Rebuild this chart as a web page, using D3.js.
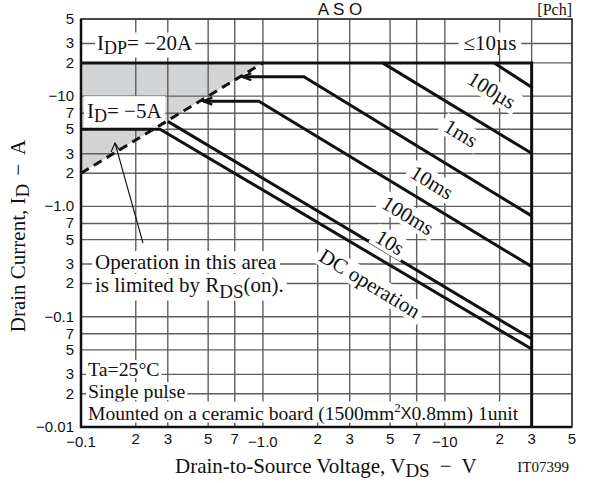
<!DOCTYPE html>
<html>
<head>
<meta charset="utf-8">
<script src="https://cdn.jsdelivr.net/npm/d3@7"></script>
<style>
  html, body { margin: 0; padding: 0; background: #fff; }
  svg { display: block; }
  .serif { font-family: "Liberation Serif", "DejaVu Serif", serif; }
  .sans { font-family: "Liberation Sans", Arial, sans-serif; }
</style>
</head>
<body>
<svg id="chart" width="596" height="483"></svg>
<script>
// ---- data ----
const xTicks = [0.1, 0.2, 0.3, 0.5, 0.7, 1, 2, 3, 5, 7, 10, 20, 30, 50];
const xTickLabels = ["−0.1", "2", "3", "5", "7", "−1.0", "2", "3", "5", "7", "−10", "2", "3", "5"];
const yTicks = [50, 30, 20, 10, 7, 5, 3, 2, 1, 0.7, 0.5, 0.3, 0.2, 0.1, 0.07, 0.05, 0.03, 0.02, 0.01];
const yTickLabels = ["5", "3", "2", "−10", "7", "5", "3", "2", "−1.0", "7", "5", "3", "2", "−0.1", "7", "5", "3", "2", "−0.01"];

const rdsOnLimit = [[0.1, 2], [1.0, 20]];
const rdsArea = [[0.1, 2], [1.0, 20], [0.1, 20]];
const curve10us = [[0.1, 20], [30, 20], [30, 0.01]];
const curve100us = [[18.7, 20], [30, 12]];
const curve1ms = [[4.55, 20], [30, 3.03]];
const curve10ms = [[0.77, 15], [1.68, 15], [30, 0.82]];
const curve100ms = [[0.47, 9], [0.95, 9], [30, 0.285]];
const curve10s = [[0.30, 5.9], [30, 0.063]];
const curveDC = [[0.1, 5], [0.272, 5], [30, 0.051]];

const curveLabels = [
  { text: "100µs", at: [18.1, 11.3] },
  { text: "1ms", at: [12.25, 4.6] },
  { text: "10ms", at: [8.48, 1.65] },
  { text: "100ms", at: [6.26, 0.826] },
  { text: "10s", at: [4.99, 0.47] },
  { text: "DC operation", at: [3.87, 0.2] }
];

// ---- layout ----
const svg = d3.select("#chart");
const x = d3.scaleLog().domain([0.1, 50]).range([81, 572]);
const y = d3.scaleLog().domain([0.01, 50]).range([427, 19]);
const line = d3.line().x(d => x(d[0])).y(d => y(d[1]));
const gridColor = "#5e5e5e";

// shaded RDS(on) area
svg.append("path").attr("d", line(rdsArea) + "Z").attr("fill", "#d3d4d6");

// grid
const grid = svg.append("g");
grid.selectAll("line.v").data(xTicks).join("line")
  .attr("x1", d => x(d)).attr("x2", d => x(d))
  .attr("y1", y(0.01)).attr("y2", y(50))
  .attr("stroke", gridColor).attr("stroke-width", 1.4);
grid.selectAll("line.h").data(yTicks).join("line")
  .attr("x1", x(0.1)).attr("x2", x(50))
  .attr("y1", d => y(d)).attr("y2", d => y(d))
  .attr("stroke", gridColor).attr("stroke-width", 1.4);

// helper: text with white box
function boxedText(g, tx, ty, rot, build, size, pad, anchor) {
  const grp = g.append("g").attr("transform", `translate(${tx},${ty}) rotate(${rot})`);
  const t = grp.append("text").attr("class", "serif").attr("font-size", size)
    .attr("text-anchor", anchor || "middle").attr("dominant-baseline", "central").attr("fill", "#111");
  build(t);
  const bb = t.node().getBBox();
  grp.insert("rect", "text")
    .attr("x", bb.x - pad[0]).attr("y", bb.y - pad[1])
    .attr("width", bb.width + 2 * pad[0]).attr("height", bb.height + 2 * pad[1])
    .attr("fill", "#fff");
  return grp;
}

const lab = svg.append("g");

boxedText(lab, 97, y(30), 0, t => {
  t.append("tspan").text("I");
  t.append("tspan").attr("font-size", 18).attr("dy", 5).text("DP");
  t.append("tspan").attr("dy", -5).text("= −20A");
}, 21, [2, -1], "start");
boxedText(lab, 87, y(7.3), 0, t => {
  t.append("tspan").text("I");
  t.append("tspan").attr("font-size", 18).attr("dy", 5).text("D");
  t.append("tspan").attr("dy", -5).text("= −5A");
}, 21, [3, 3], "start");

// curves
const curves = svg.append("g").attr("fill", "none").attr("stroke", "#111")
  .attr("stroke-width", 3).attr("stroke-linejoin", "miter");
[curve10us, curve100us, curve1ms, curve10ms, curve100ms, curve10s, curveDC].forEach(c => {
  curves.append("path").attr("d", line(c));
});
curves.append("path").attr("d", line(rdsOnLimit)).attr("stroke-dasharray", "9,6");

// small arrowheads where lines meet RDS(on) boundary
[curve10ms, curve100ms].forEach(c => {
  const px = x(c[0][0]), py = y(c[0][1]);
  svg.append("path")
    .attr("d", `M${px + 9},${py - 3.5} L${px},${py} L${px + 9},${py + 3.5}`)
    .attr("fill", "none").attr("stroke", "#111").attr("stroke-width", 2.2);
});

// frame
svg.append("rect").attr("x", x(0.1)).attr("y", y(50))
  .attr("width", x(50) - x(0.1)).attr("height", y(0.01) - y(50))
  .attr("fill", "none").attr("stroke", "#333").attr("stroke-width", 1.5);
svg.append("path")
  .attr("d", `M${x(0.1)},${y(50)} V${y(0.01)} H${x(50)}`)
  .attr("fill", "none").attr("stroke", "#111").attr("stroke-width", 2.5);

const lab2 = svg.append("g");
boxedText(lab2, 490, y(30), 0, t => t.text("≤10µs"), 21, [5, -1]);

const ang = Math.atan((y(1) - y(10)) / (x(10) - x(1))) * 180 / Math.PI;
curveLabels.forEach(d => {
  boxedText(lab2, x(d.at[0]), y(d.at[1]), ang, t => t.text(d.text), 21, [4, -1]);
});

// Operation note
boxedText(lab2, 95, 262, 0, t => t.text("Operation in this area"), 21, [3, -1], "start");
boxedText(lab2, 95, 285, 0, t => {
  t.append("tspan").text("is limited by R");
  t.append("tspan").attr("font-size", 19).attr("dy", 6).text("DS");
  t.append("tspan").attr("dy", -6).text("(on).");
}, 21, [3, -1], "start");
// arrow
svg.append("line").attr("x1", 143).attr("y1", 243).attr("x2", 115).attr("y2", 143)
  .attr("stroke", "#111").attr("stroke-width", 1.1);
svg.append("path").attr("d", "M111,152 L115,143 L120,151").attr("fill", "none")
  .attr("stroke", "#111").attr("stroke-width", 1.1);

// conditions
boxedText(lab2, 88, 369, 0, t => t.text("Ta=25°C"), 19.8, [2, -2], "start");
boxedText(lab2, 88, 391, 0, t => t.text("Single pulse"), 19.8, [2, -2], "start");
boxedText(lab2, 88, 413, 0, t => {
  t.append("tspan").text("Mounted on a ceramic board (1500mm");
  t.append("tspan").attr("font-size", 13).attr("dy", -6).text("2");
  t.append("tspan").attr("dy", 6).attr("font-family", "Liberation Sans, Arial, sans-serif").attr("font-size", 16).text("X");
  t.append("tspan").text("0.8mm) 1unit");
}, 19.6, [2, -2], "start");

// tick labels
const tickG = svg.append("g").attr("class", "sans").attr("font-size", 15).attr("fill", "#111");
tickG.selectAll("text.x").data(xTicks).join("text")
  .attr("x", d => x(d)).attr("y", (d, i) => xTickLabels[i].startsWith("−") ? 447 : 444)
  .attr("text-anchor", "middle")
  .text((d, i) => xTickLabels[i]);
tickG.selectAll("text.y").data(yTicks).join("text")
  .attr("x", 74).attr("y", d => y(d) + 5)
  .attr("text-anchor", "end")
  .text((d, i) => yTickLabels[i]);

// axis titles
const xt = svg.append("text").attr("class", "serif").attr("font-size", 21)
  .attr("x", 175).attr("y", 473).attr("fill", "#111");
xt.append("tspan").text("Drain-to-Source Voltage, V");
xt.append("tspan").attr("font-size", 19).attr("dy", 4).text("DS");
xt.append("tspan").attr("dy", -4).attr("dx", 10).text("−");
xt.append("tspan").attr("dx", 10).text("V");
svg.append("text").attr("class", "serif").attr("font-size", 15).attr("x", 569).attr("y", 472)
  .attr("text-anchor", "end").attr("fill", "#111").text("IT07399");

const yt = svg.append("text").attr("class", "serif").attr("font-size", 21)
  .attr("transform", "translate(25,236) rotate(-90)").attr("text-anchor", "middle").attr("fill", "#111");
yt.append("tspan").text("Drain Current, I");
yt.append("tspan").attr("font-size", 19).attr("dy", 4).text("D");
yt.append("tspan").attr("dy", -4).attr("dx", 8).text("−");
yt.append("tspan").attr("dx", 9).text("A");

// title
svg.append("text").attr("class", "sans").attr("font-size", 17).attr("x", 340).attr("y", 15)
  .attr("text-anchor", "middle").attr("fill", "#111").text("A S O");
svg.append("text").attr("class", "serif").attr("font-size", 16).attr("x", 572).attr("y", 15)
  .attr("text-anchor", "end").attr("fill", "#111").text("[Pch]");
</script>
</body>
</html>
